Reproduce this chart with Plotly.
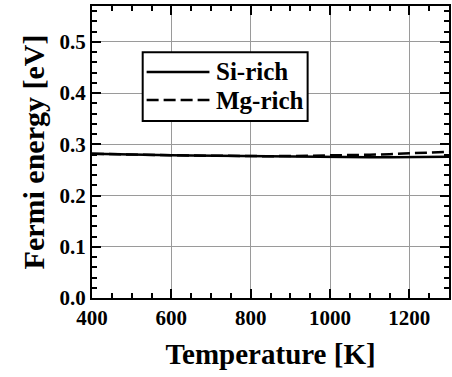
import plotly.graph_objects as go

temperature = [400, 450, 500, 550, 600, 650, 700, 750, 800, 850, 900, 950,
               1000, 1050, 1100, 1150, 1200, 1250, 1300]
si_rich = [0.2815, 0.2805, 0.2800, 0.2793, 0.2787, 0.2780, 0.2775, 0.2770,
           0.2763, 0.2760, 0.2755, 0.2752, 0.2750, 0.2748, 0.2747, 0.2747,
           0.2748, 0.2750, 0.2755]
mg_rich = [0.2815, 0.2805, 0.2800, 0.2793, 0.2787, 0.2780, 0.2775, 0.2770,
           0.2765, 0.2768, 0.2772, 0.2776, 0.2780, 0.2788, 0.2797, 0.2808,
           0.2820, 0.2835, 0.2855]
series_names = ["Si-rich", "Mg-rich"]
x_ticks = [400, 600, 800, 1000, 1200]
x_tick_text = ["400", "600", "800", "1000", "1200"]
y_ticks = [0.0, 0.1, 0.2, 0.3, 0.4, 0.5]
y_tick_text = ["0.0", "0.1", "0.2", "0.3", "0.4", "0.5"]

FONT = "Liberation Serif"
fig = go.Figure()
fig.add_trace(go.Scatter(x=temperature, y=si_rich, mode="lines", name=series_names[0],
                         line=dict(color="black", width=2.5), showlegend=False))
fig.add_trace(go.Scatter(x=temperature, y=mg_rich, mode="lines", name=series_names[1],
                         line=dict(color="black", width=2.5, dash="12px,5px"), showlegend=False))

axis_common = dict(
    showline=True, linecolor="black", linewidth=2, mirror=True,
    ticks="inside", ticklen=9, tickwidth=2, tickcolor="black",
    zeroline=False,
    tickfont=dict(family=FONT, size=21, color="black"),
)
xr = [400, 1300]
yr = [0, 0.57]
xminor = dict(dtick=50, tick0=0, ticks="inside", ticklen=5, tickwidth=1.5, tickcolor="black", showgrid=False)
yminor = dict(dtick=0.02, tick0=0, ticks="inside", ticklen=5, tickwidth=1.5, tickcolor="black", showgrid=False)
fig.update_layout(
    xaxis=dict(range=xr, tickvals=x_ticks, ticktext=["<b>%s</b>" % t for t in x_tick_text],
               minor=xminor, showgrid=True, gridcolor="#9a9a9a", gridwidth=1,
               title=dict(text="<b>Temperature [K]</b>",
                          font=dict(family=FONT, size=29, color="black"), standoff=14),
               **axis_common),
    yaxis=dict(range=yr, tickvals=y_ticks, ticktext=["<b>%s</b>" % t for t in y_tick_text],
               minor=yminor, showgrid=True, gridcolor="#9a9a9a", gridwidth=1,
               title=dict(text="<b>Fermi energy [eV]</b>",
                          font=dict(family=FONT, size=30, color="black"), standoff=6),
               **axis_common),
    xaxis2=dict(range=xr, overlaying="x", side="top", tickvals=x_ticks, showticklabels=False,
                minor=xminor, showgrid=False, ticks="inside", ticklen=9, tickwidth=2,
                tickcolor="black", showline=False, zeroline=False),
    yaxis2=dict(range=yr, overlaying="y", side="right", tickvals=y_ticks, showticklabels=False,
                minor=yminor, showgrid=False, ticks="inside", ticklen=9, tickwidth=2,
                tickcolor="black", showline=False, zeroline=False),
)
# invisible trace to activate the mirrored tick axes
fig.add_trace(go.Scatter(x=[None], y=[None], xaxis="x2", yaxis="y2", showlegend=False,
                         hoverinfo="skip"))

# custom legend box
fig.add_shape(type="rect", xref="x domain", yref="y domain", x0=0.142, x1=0.604, y0=0.606, y1=0.842,
              line=dict(color="black", width=2), fillcolor="white", layer="above")
legend_rows = [(0.774, "solid", series_names[0]), (0.678, "12px,5px", series_names[1])]
for yy, dash, name in legend_rows:
    fig.add_shape(type="line", xref="x domain", yref="y domain", x0=0.153, x1=0.329, y0=yy, y1=yy,
                  line=dict(color="black", width=2.5, dash=dash), layer="above")
    fig.add_annotation(xref="x domain", yref="y domain", x=0.343, y=yy, text="<b>%s</b>" % name,
                       showarrow=False, xanchor="left", yanchor="middle",
                       font=dict(family=FONT, size=25, color="black"))

fig.update_layout(width=452, height=377, margin=dict(l=92, r=1, t=6, b=79),
                  plot_bgcolor="white", paper_bgcolor="white")
fig.write_html("out.html")
